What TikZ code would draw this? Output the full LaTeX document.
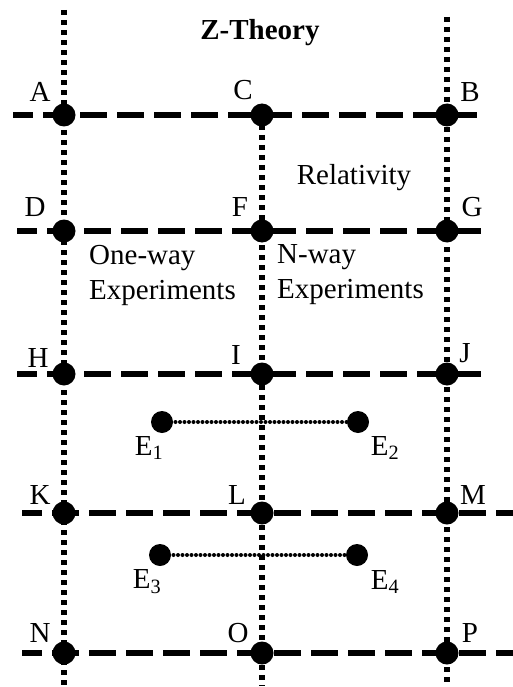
\documentclass[tikz,border=0pt]{standalone}
\usepackage{fontspec}
\setmainfont{Liberation Serif}
\usetikzlibrary{backgrounds}

\begin{document}
\begin{tikzpicture}[
        x=1pt, y=-1pt,
        font=\fontsize{29}{35}\selectfont,
        dotnode/.style={circle, fill=black, inner sep=0pt, minimum size=23pt},
        lbl/.style={inner sep=0pt, anchor=center, font=\fontsize{29}{35}\selectfont},
        gridv/.style={line width=5.5pt, dash pattern=on 5pt off 5pt},
        gridh/.style={line width=5.5pt, dash pattern=on 27pt off 10pt, dash phase=7pt},
        link/.style={line width=4pt, line cap=round, dash pattern=on 0pt off 4.5pt},
    ]
        \useasboundingbox (0,0) rectangle (513,687);

        % Grid points
        \node[dotnode, label={[lbl, xshift=-24pt, yshift=23pt]center:A}] (A) at (64,115) {};
        \node[dotnode, label={[lbl, xshift=-19pt, yshift=25pt]center:C}] (C) at (262,115) {};
        \node[dotnode, label={[lbl, xshift=23pt, yshift=23pt]center:B}] (B) at (447,115) {};
        \node[dotnode, label={[lbl, xshift=-29pt, yshift=24pt]center:D}] (D) at (64,231) {};
        \node[dotnode, label={[lbl, xshift=-22pt, yshift=24pt]center:F}] (F) at (262,231) {};
        \node[dotnode, label={[lbl, xshift=25pt, yshift=24pt]center:G}] (G) at (447,231) {};
        \node[dotnode, label={[lbl, xshift=-26pt, yshift=16pt]center:H}] (H) at (64,374) {};
        \node[dotnode, label={[lbl, xshift=-26pt, yshift=19pt]center:I}] (I) at (262,374) {};
        \node[dotnode, label={[lbl, xshift=18pt, yshift=21pt]center:J}] (J) at (447,374) {};
        \node[dotnode, label={[lbl, xshift=-24pt, yshift=18pt]center:K}] (K) at (64,513) {};
        \node[dotnode, label={[lbl, xshift=-25pt, yshift=18pt]center:L}] (L) at (262,513) {};
        \node[dotnode, label={[lbl, xshift=26pt, yshift=18pt]center:M}] (M) at (447,513) {};
        \node[dotnode, label={[lbl, xshift=-24pt, yshift=20pt]center:N}] (N) at (64,653) {};
        \node[dotnode, label={[lbl, xshift=-24pt, yshift=20pt]center:O}] (O) at (262,653) {};
        \node[dotnode, label={[lbl, xshift=23pt, yshift=20pt]center:P}] (P) at (447,653) {};

        % Experiment points
        \node[dotnode, minimum size=22pt, label={[lbl, xshift=-13pt, yshift=-26pt]center:E\textsubscript{1}}] (E1) at (162,422) {};
        \node[dotnode, minimum size=22pt, label={[lbl, xshift=27pt, yshift=-26pt]center:E\textsubscript{2}}] (E2) at (358,422) {};
        \node[dotnode, minimum size=22pt, label={[lbl, xshift=-13pt, yshift=-27pt]center:E\textsubscript{3}}] (E3) at (160,555) {};
        \node[dotnode, minimum size=22pt, label={[lbl, xshift=28pt, yshift=-27pt]center:E\textsubscript{4}}] (E4) at (357,555) {};

        % Texts
        \node[font=\bfseries\fontsize{29}{35}\selectfont] (title) at (260,33) {Z-Theory};
        \node (rel) at (354,178) {Relativity};
        \node[anchor=west, align=left, inner sep=0pt] (oneway) at (89,275) {One-way\\Experiments};
        \node[anchor=west, align=left, inner sep=0pt] (nway) at (277,275) {N-way\\Experiments};

        % Line ends
        \coordinate (topL) at (64,10);
        \coordinate (topR) at (447,17);
        \coordinate (botL) at (64,686);
        \coordinate (botC) at (262,686);
        \coordinate (botR) at (447,686);
        \coordinate (lA) at (13,115);  \coordinate (rA) at (482,115);
        \coordinate (lD) at (17,231);  \coordinate (rD) at (485,231);
        \coordinate (lH) at (17,374);  \coordinate (rH) at (485,374);
        \coordinate (lK) at (22,513);  \coordinate (rK) at (513,513);
        \coordinate (lN) at (22,653);  \coordinate (rN) at (513,653);

        \begin{scope}[on background layer]
        % Vertical dotted lines
        \draw[gridv] (topL) -- (A.center) -- (D.center) -- (H.center) -- (K.center) -- (N.center) -- (botL);
        \draw[gridv] (C.center) -- (F.center) -- (I.center) -- (L.center) -- (O.center) -- (botC);
        \draw[gridv] (topR) -- (B.center) -- (G.center) -- (J.center) -- (M.center) -- (P.center) -- (botR);

        % Horizontal dashed lines
        \draw[gridh] (lA) -- (A.center) -- (C.center) -- (B.center) -- (rA);
        \draw[gridh] (lD) -- (D.center) -- (F.center) -- (G.center) -- (rD);
        \draw[gridh] (lH) -- (H.center) -- (I.center) -- (J.center) -- (rH);
        \draw[gridh] (lK) -- (K.center) -- (L.center) -- (M.center) -- (rK);
        \draw[gridh] (lN) -- (N.center) -- (O.center) -- (P.center) -- (rN);

        % Experiment links
        \draw[link] (E1.center) -- (E2.center);
        \draw[link] (E3.center) -- (E4.center);
        \end{scope}

    \end{tikzpicture}
\end{document}
